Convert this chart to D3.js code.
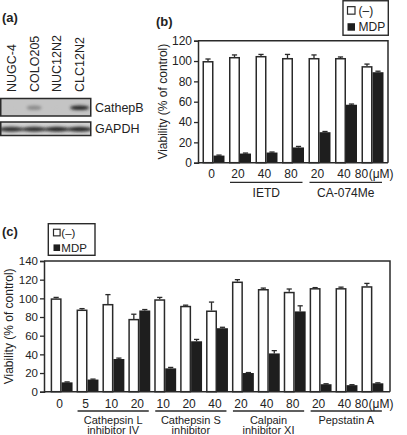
<!DOCTYPE html>
<html><head><meta charset="utf-8">
<script src="https://cdn.jsdelivr.net/npm/d3@7"></script>
<style>
body{margin:0;background:#fff}
svg{display:block}
text{font-family:"Liberation Sans",Arial,Helvetica,sans-serif;fill:#222}
</style>
</head><body>
<svg id="fig" width="407" height="435"></svg>
<script>
// ---- panel (a) western blot: relative band intensities ----
const lanes = ["NUGC-4","COLO205","NUC12N2","CLC12N2"];
const cathepB = [0.04, 0.5, 0.03, 0.9];
const gapdh = [0.85, 0.85, 0.9, 0.9];
const blotRows = ["CathepB","GAPDH"];

// ---- panel (b) ----
const bLabels = ["0","20","40","80","20","40","80"];
const bControl = [100,104,105,103,103,103,95];
const bControlErr = [2,2,1.5,3.5,3,1,2];
const bMDP = [7,9,10,15,30,57,89];
const bMDPErr = [0.5,0.5,0.5,1,0.7,0.7,1];
const bGroups = [["IETD",1,3],["CA-074Me",4,6]];
const bTicks = [0,20,40,60,80,100,120];

// ---- panel (c) ----
const cLabels = ["0","5","10","20","10","20","40","20","40","80","20","40","80"];
const cControl = [100,88,94,78,99,92,87,118,110,107,111,111,113];
const cControlErr = [1,1,10,5,2,0.7,9,2,1,3,0.5,1,3];
const cMDP = [10,13,35,87,25,54,68,20,41,86,8,7,9];
const cMDPErr = [0.5,0.5,1,1,1,2,1,0.5,3,6,0.5,0.5,0.5];
const cGroups = [["Cathepsin L|inhibitor IV",1,3],["Cathepsin S|inhibitor",4,6],["Calpain|inhibitor XI",7,9],["Pepstatin A",10,12]];
const cTicks = [0,20,40,60,80,100,120,140];

const legendItems = ["(–)","MDP"];
const unit = "(μM)";

const svg = d3.select("#fig");
const INK = "#2a2a2a";

// ================= (a) =================
svg.append("text").attr("x",2).attr("y",22).attr("font-size",13).attr("font-weight","bold").text("(a)");
const lx = d3.scaleBand().domain(lanes).range([0,91]);
svg.append("g").selectAll("text").data(lanes).join("text")
  .attr("transform",d=>`translate(${lx(d)+lx.bandwidth()/2+4.5},92) rotate(-90)`)
  .attr("font-size",12.5).text(d=>d);

const defs = svg.append("defs");
defs.append("filter").attr("id","blur").attr("x","-50%").attr("y","-100%").attr("width","200%").attr("height","300%")
  .append("feGaussianBlur").attr("stdDeviation",1.6);

const rowY = d3.scaleOrdinal().domain(blotRows).range([[98.5,116],[122,135.5]]);
const rowBg = d3.scaleOrdinal().domain(blotRows).range(["#c4c4c4","#d2d2d2"]);
const shade = d3.scaleLinear().domain([0,1]).range(["#c4c4c4","#151515"]);
[[blotRows[0],cathepB],[blotRows[1],gapdh]].forEach(([row,vals])=>{
  const [yt,yb]=rowY(row);
  const g=svg.append("g");
  const cid="clip"+row;
  defs.append("clipPath").attr("id",cid).append("rect").attr("x",0.75).attr("y",yt).attr("width",90).attr("height",yb-yt);
  g.append("rect").attr("x",0.75).attr("y",yt).attr("width",90).attr("height",yb-yt).attr("fill",rowBg(row));
  const bg=g.append("g").attr("clip-path",`url(#${cid})`);
  bg.selectAll("ellipse").data(vals).join("ellipse")
    .attr("cx",(d,i)=>lx(lanes[i])+lx.bandwidth()/2)
    .attr("cy",(yt+yb)/2+0.5)
    .attr("rx",(d,i)=>row==="GAPDH"?12.5:5+5*d)
    .attr("ry",row==="GAPDH"?2.5:2.3)
    .attr("fill",d=>shade(d))
    .attr("opacity",d=>Math.min(1,d*1.3))
    .attr("filter","url(#blur)");
  g.append("rect").attr("x",0.75).attr("y",yt).attr("width",90).attr("height",yb-yt)
    .attr("fill","none").attr("stroke",INK).attr("stroke-width",1.5);
  svg.append("text").attr("x",95).attr("y",(yt+yb)/2+4.5).attr("font-size",12.5).text(row);
});

// ================= bar chart helper =================
function barChart(o){
  const g = svg.append("g");
  const n = o.labels.length;
  const x = d3.scaleBand().domain(d3.range(n)).range([o.x0,o.x1]).paddingInner(o.pin).paddingOuter(o.pout);
  const sub = d3.scaleBand().domain(["ctrl","mdp"]).range([0,x.bandwidth()]);
  const y = d3.scaleLinear().domain([0,o.ymax]).range([o.y0,o.y1]);
  const bw = sub.bandwidth();

  const eb = (vals,errs,key)=>{
    const e = g.append("g").attr("stroke",INK).attr("stroke-width",1.3);
    vals.forEach((v,i)=>{
      const cx = x(i)+sub(key)+bw/2;
      e.append("line").attr("x1",cx).attr("x2",cx).attr("y1",y(v)).attr("y2",y(v+errs[i]));
      e.append("line").attr("x1",cx-2.6).attr("x2",cx+2.6).attr("y1",y(v+errs[i])).attr("y2",y(v+errs[i]));
    });
  };
  eb(o.ctrl,o.ctrlErr,"ctrl");
  eb(o.mdp,o.mdpErr,"mdp");

  g.append("g").selectAll("rect").data(o.mdp).join("rect")
    .attr("x",(d,i)=>x(i)+sub("mdp")).attr("width",bw)
    .attr("y",d=>y(d)).attr("height",d=>y(0)-y(d)).attr("fill","#1e1e1e");
  g.append("g").selectAll("rect").data(o.ctrl).join("rect")
    .attr("x",(d,i)=>x(i)+sub("ctrl")+0.75).attr("width",bw-1.5)
    .attr("y",d=>y(d)+0.75).attr("height",d=>y(0)-y(d)-0.75)
    .attr("fill","#fff").attr("stroke",INK).attr("stroke-width",1.5);

  g.append("path").attr("d",`M${o.x0},${y(o.ymax)}H${o.x1}V${y(0)}`).attr("fill","none").attr("stroke",INK).attr("stroke-width",1.5);
  g.append("line").attr("x1",o.x0).attr("x2",o.x1).attr("y1",y(0)).attr("y2",y(0)).attr("stroke",INK).attr("stroke-width",1.5);

  const ax = g.append("g").attr("transform",`translate(${o.x0},0)`)
    .call(d3.axisLeft(y).tickValues(o.ticks).tickSize(4).tickPadding(2).tickFormat(d3.format("d")));
  ax.select(".domain").attr("stroke",INK).attr("stroke-width",1.5);
  ax.selectAll(".tick line").attr("stroke",INK).attr("stroke-width",1.3);
  ax.selectAll(".tick text").attr("font-size",o.yfs).attr("font-family","Liberation Sans, Arial, sans-serif").attr("fill","#222");

  g.append("text").attr("transform",`translate(${o.titleX},${(y(0)+y(o.ymax))/2}) rotate(-90)`)
    .attr("text-anchor","middle").attr("font-size",12).text("Viability (% of control)");

  const xl = g.append("g");
  o.labels.forEach((l,i)=>{
    const cx = x(i)+x.bandwidth()/2 + o.labDx;
    if(i===n-1){
      xl.append("text").attr("x",cx-o.lastShift).attr("y",o.labY).attr("font-size",o.fs).attr("text-anchor","middle").text(l);
      xl.append("text").attr("x",cx-o.lastShift+o.fs*0.6).attr("y",o.labY).attr("font-size",o.fs).attr("text-anchor","start").text(unit);
    } else {
      xl.append("text").attr("x",cx).attr("y",o.labY).attr("text-anchor","middle").attr("font-size",o.fs).text(l);
    }
  });
  o.groups.forEach(([name,a,b])=>{
    const xa = x(a)+1, xb = x(b)+x.bandwidth()-1.5;
    xl.append("line").attr("x1",xa).attr("x2",xb).attr("y1",o.lineY).attr("y2",o.lineY).attr("stroke",INK).attr("stroke-width",1.3);
    name.split("|").forEach((s,k)=>{
      xl.append("text").attr("x",(xa+xb)/2).attr("y",o.nameY+k*o.nameLH).attr("text-anchor","middle").attr("font-size",o.nameFs).text(s);
    });
  });
  return {x,y};
}

function legend(o){
  const g = svg.append("g");
  g.append("rect").attr("x",o.x).attr("y",o.y).attr("width",o.w).attr("height",o.h)
    .attr("fill","#fff").attr("stroke",INK).attr("stroke-width",1.4);
  legendItems.forEach((t,i)=>{
    const yy = o.y + o.h*(i===0?0.28:0.76);
    g.append("rect").attr("x",o.x+o.sq0).attr("y",yy-o.s/2).attr("width",o.s).attr("height",o.s)
      .attr("fill",i===0?"#fff":"#1e1e1e").attr("stroke",INK).attr("stroke-width",i===0?1.2:0);
    g.append("text").attr("x",o.x+o.tx).attr("y",yy+o.fs*0.36).attr("font-size",o.fs).text(t);
  });
}

// ================= (b) =================
svg.append("text").attr("x",156).attr("y",26).attr("font-size",13).attr("font-weight","bold").text("(b)");
barChart({labels:bLabels,ctrl:bControl,ctrlErr:bControlErr,mdp:bMDP,mdpErr:bMDPErr,
  x0:198,x1:388,y0:162.7,y1:40.7,ymax:120,pin:0.17,pout:0.17,ticks:bTicks,fs:12,yfs:12,
  titleX:167,labY:178,labDx:-2,lastShift:9,groups:bGroups,lineY:182.3,nameY:196.5,nameLH:12,nameFs:12});
legend({x:343,y:0.75,w:45.3,h:34.5,s:7.5,sq0:4.5,tx:15.5,fs:12});

// ================= (c) =================
svg.append("text").attr("x",2).attr("y",236).attr("font-size",13).attr("font-weight","bold").text("(c)");
barChart({labels:cLabels,ctrl:cControl,ctrlErr:cControlErr,mdp:cMDP,mdpErr:cMDPErr,
  x0:44,x1:390,y0:391.7,y1:261,ymax:140,pin:0.154,pout:0.257,ticks:cTicks,fs:12,yfs:11.5,
  titleX:12.5,labY:407.5,labDx:-2,lastShift:9,groups:cGroups,lineY:411,nameY:423.5,nameLH:10.5,nameFs:11});
legend({x:48.3,y:223.7,w:46.7,h:31.6,s:6.6,sq0:5.2,tx:13,fs:11.5});
</script>
</body></html>
